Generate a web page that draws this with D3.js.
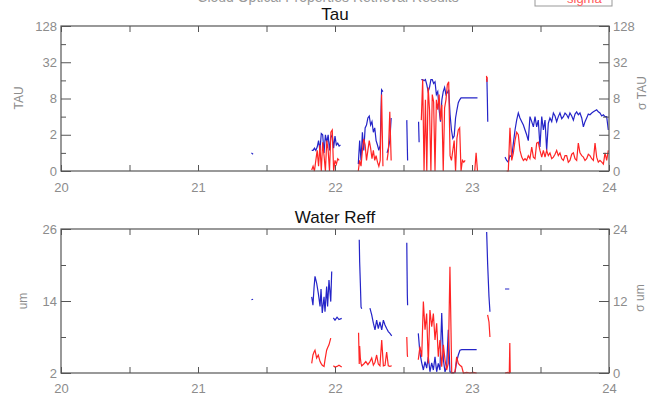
<!DOCTYPE html>
<html>
<head>
<meta charset="utf-8">
<script src="https://cdnjs.cloudflare.com/ajax/libs/d3/7.8.5/d3.min.js"></script>
<style>
  body { margin: 0; background: #fff; }
  svg { display: block; font-family: "Liberation Sans", Arial, sans-serif; }
</style>
</head>
<body>
<div id="chart"></div>
<script>
// Tau / Water Reff retrieval time series, days 20-24
// rows are [day, value (blue, left axis), sigma (red, right axis)]; null = no retrieval

const dayTicks = [20, 21, 22, 23, 24];
const halfDayTicks = [20.5, 21.5, 22.5, 23.5];

const tauTicks = [0.5, 2, 8, 32, 128];   // 0.5 is the plot floor, labelled "0"
const tauMinor = [1, 4, 16, 64];
const reffTicks = [2, 14, 26];
const reffMinor = [8, 20];
const reffSigTicks = [0, 12, 24];
const reffSigMinor = [6, 18];

const tauRows = [
  [21.390, 1.0, null], [21.402, 0.95, null], [21.6, null, null],
  [21.83, 1.1, 0.52], [21.84, 1.1, 0.6], [21.85, 1.2, 0.5], [21.86, 1.1, 0.75],
  [21.87, 1.25, 1.1], [21.88, 1.6, 0.6], [21.89, 1.1, 1.35], [21.90, 2.1, 0.5],
  [21.91, 2.0, 1.5], [21.92, 1.0, 0.9], [21.93, 2.0, 0.5], [21.94, 1.5, 1.6],
  [21.95, 2.0, 1.1], [21.96, 1.1, 0.5], [21.97, 1.8, 2.2], [21.98, 2.0, 2.4],
  [21.99, 1.2, 0.5], [22.00, 1.9, 0.75], [22.01, 1.35, 0.65], [22.02, 1.45, 0.8],
  [22.03, 1.3, 0.75], [22.04, 1.35, null], [22.10, null, null],
  [22.17, 0.65, 0.5], [22.18, 1.6, 0.75], [22.19, 0.75, 0.6], [22.20, 2.2, 1.1],
  [22.21, 1.1, 1.7], [22.22, 2.6, 1.35], [22.23, 2.9, 0.75], [22.24, 3.8, 1.1],
  [22.25, 4.1, 1.6], [22.26, 2.9, 1.2], [22.27, 3.3, 0.8], [22.28, 2.2, 1.1],
  [22.29, 2.6, 0.75], [22.30, 1.6, 0.9], [22.31, 1.35, 0.7], [22.32, 1.1, 0.6],
  [22.33, 1.35, 0.75], [22.34, 11.2, 9.3], [22.35, 10.4, 0.6], [22.365, null, null],
  [22.38, 1.0, 0.75], [22.39, 1.2, 1.1], [22.40, 1.6, 4.8], [22.41, 3.8, 0.75],
  [22.47, null, null],
  [22.524, 3.5, null], [22.527, 1.6, null], [22.530, 0.75, null], [22.57, null, null],
  [22.610, 3.3, null], [22.614, 1.5, null], [22.622, null, null],
  [22.63, 16.5, 3.5], [22.64, 16.5, 16.5], [22.65, 15.8, 0.5], [22.66, 16.5, 7.6],
  [22.67, 13.6, 0.5], [22.68, 10.4, 12.2], [22.69, 12.2, 5.2], [22.70, 16.5, 0.5],
  [22.71, 16.5, 9.3], [22.72, 14.2, 7.0], [22.73, 15.2, 0.5], [22.74, 9.3, 7.6],
  [22.75, 10.4, 5.2], [22.76, 5.2, 9.3], [22.77, 3.3, 3.5], [22.78, 7.6, 6.3],
  [22.79, 10.4, 0.5], [22.80, 12.2, 5.6], [22.81, 9.3, 7.6], [22.82, 10, 13.6],
  [22.83, 11.2, 15.2], [22.84, 4.3, 0.9], [22.85, 2.4, 0.75], [22.86, 1.75, 1.1],
  [22.87, 1.9, 1.6], [22.88, 3.8, 0.5], [22.89, 5.2, 1.75], [22.90, 6.8, 2.4],
  [22.91, 7.6, 2.6], [22.92, 8.2, 0.5], [22.93, 8.2, 0.75], [22.94, 8.2, 0.7],
  [22.95, 8.2, 0.75], [22.98, 8.2, null], [23.00, 8.2, null], [23.02, 8.2, 0.5],
  [23.03, 8.2, 1.0], [23.04, 8.2, 0.5], [23.07, null, null],
  [23.106, 17.0, 19], [23.109, 16, 15], [23.112, 8, 18], [23.115, 3.3, null],
  [23.18, null, null],
  [23.241, 0.85, null], [23.253, 0.75, 0.5], [23.265, 0.7, 0.5], [23.277, 0.9, 2.6],
  [23.290, 0.85, 0.75], [23.302, 1.45, 1.0], [23.314, 2.4, 1.6], [23.326, 3.5, 2.2],
  [23.338, 4.6, 2.0], [23.350, 3.8, 1.1], [23.363, 3.3, 0.85], [23.375, 2.9, 0.75],
  [23.387, 2.4, 0.8], [23.399, 2.0, 0.75], [23.411, 1.6, 0.9], [23.423, 4.0, 0.8],
  [23.436, 3.3, 1.25], [23.448, 2.7, 0.85], [23.460, 4.0, 0.8], [23.472, 2.7, 1.45],
  [23.484, 3.5, 1.5], [23.496, 1.25, 1.1], [23.509, 4.0, 0.85], [23.521, 2.4, 1.1],
  [23.533, 3.5, 0.85], [23.545, 1.1, 1.1], [23.557, 3.1, 0.9], [23.569, 3.8, 1.0],
  [23.582, 3.3, 0.8], [23.594, 4.6, 0.85], [23.606, 4.1, 0.95], [23.618, 3.3, 1.1],
  [23.630, 4.0, 0.9], [23.642, 4.6, 1.0], [23.655, 3.7, 0.8], [23.667, 4.0, 0.75],
  [23.679, 4.6, 0.9], [23.691, 4.3, 0.9], [23.703, 3.8, 0.7], [23.715, 4.6, 0.75],
  [23.728, 4.1, 0.95], [23.740, 3.5, 1.0], [23.752, 4.4, 0.8], [23.764, 4.8, 0.75],
  [23.776, 4.3, 1.45], [23.788, 4.6, 1.0], [23.801, 3.8, 0.9], [23.813, 2.7, 0.85],
  [23.825, 3.3, 0.75], [23.837, 3.8, 0.8], [23.849, 4.4, 0.95], [23.861, 4.3, 0.9],
  [23.874, 4.6, 0.8], [23.886, 4.8, 0.75], [23.898, 5.0, 1.45], [23.910, 5.2, 0.85],
  [23.922, 4.8, 0.7], [23.934, 4.6, 0.75], [23.947, 4.1, 0.7], [23.959, 4.3, 0.65],
  [23.971, 4.0, 1.0], [23.983, 4.0, 0.75], [23.995, 2.4, 1.1]
];

const reffRows = [
  [21.390, 14.2, null], [21.402, 14.3, null], [21.6, null, null],
  [21.830, 14.7, 1.6], [21.839, 13.3, 3.0], [21.847, 16.2, 3.5], [21.854, 18.1, 3.8],
  [21.866, 17.0, 2.5], [21.878, 15.3, 3.0], [21.891, 13.1, 1.9], [21.898, 16.0, 1.6],
  [21.907, 12.0, 1.3], [21.920, 14.7, 1.1], [21.927, 12.2, 2.2], [21.939, 16.4, 3.8],
  [21.946, 13.1, 4.2], [21.956, 17.5, 4.7], [21.969, 13.9, 5.8], [21.976, 18.9, null],
  [21.982, null, null],
  [21.988, 11.2, 1.2], [22.000, 10.8, 1.0], [22.015, 11.3, 1.1], [22.029, 10.9, 1.3],
  [22.049, 11.1, 1.0], [22.10, null, null],
  [22.172, null, 6.7], [22.177, 24.2, 1.5], [22.180, 20.5, 4.5], [22.185, 17.0, 2.5],
  [22.190, 13.0, 1.6], [22.195, 12.7, 1.2], [22.210, null, 1.5], [22.225, null, 1.9],
  [22.240, null, 1.4], [22.255, 12.8, 1.9], [22.268, 11.7, 2.5], [22.280, 10.3, 1.3],
  [22.292, 9.2, 1.8], [22.304, 10.8, 3.0], [22.316, 9.4, 1.5], [22.328, 10.5, 1.2],
  [22.341, 9.2, 5.5], [22.353, 10.8, 1.2], [22.365, 10.0, 1.3], [22.377, 9.4, 3.5],
  [22.389, 8.9, 1.2], [22.401, 8.6, 1.1], [22.414, 8.2, 1.2], [22.47, null, null],
  [22.524, 23.7, 6.0], [22.526, 19.0, 4.5], [22.528, 15.0, 3.0], [22.530, 13.3, 2.7],
  [22.57, null, null],
  [22.608, 8.6, 2.2], [22.620, 5.3, 4.4], [22.633, 3.7, 2.7], [22.645, 2.5, 11.9],
  [22.657, 3.9, 7.2], [22.669, 2.8, 9.9], [22.681, 4.7, 1.6], [22.693, 2.2, 10.5],
  [22.706, 3.7, 7.7], [22.718, 2.5, 9.9], [22.730, 4.7, 5.5], [22.742, 2.2, 8.3],
  [22.754, 3.6, 2.7], [22.766, 2.5, 5.5], [22.779, 12.0, 1.05], [22.791, 4.2, 4.7],
  [22.803, 2.2, 2.2], [22.815, 3.1, 0.5], [22.827, 9.2, 1.6], [22.839, 2.2, 17.7],
  [22.852, 2.05, 0], [22.864, 2.05, 0], [22.876, 2.1, 0.2], [22.888, 3.9, 2.7],
  [22.900, 5.0, 1.6], [22.912, 5.8, 1.3], [22.925, 5.9, 1.05], [22.937, 5.9, 0],
  [22.961, 5.9, 0.1], [22.985, 5.9, 0], [23.009, 5.9, 0.1], [23.034, 5.9, 0],
  [23.07, null, null],
  [23.107, 25.5, null], [23.114, 20.3, 9.7], [23.124, 14.7, 8.5], [23.131, 12.2, 6.0],
  [23.18, null, null],
  [23.241, 16.0, 0], [23.258, 16.0, 0.1], [23.272, 16.0, 0], [23.276, null, 5.0],
  [23.279, null, 0]
];

const BLUE = "#2424c8";
const RED = "#ff2424";
const FRAME = "#555";
const LABEL = "#8c8c8c";

const W = 650, H = 400;
const svg = d3.select("#chart").append("svg").attr("width", W).attr("height", H);

const x = d3.scaleLinear().domain([20, 24]).range([61, 609]);

// header remnants (page title and legend sit mostly above the visible area)
svg.append("text").attr("x", 328).attr("y", 2).attr("text-anchor", "middle")
  .attr("fill", "#9a9a9a").style("font-size", "14px")
  .text("Cloud Optical Properties   Retrieval   Results");
svg.append("rect").attr("x", 535).attr("y", -20).attr("width", 77).attr("height", 26)
  .attr("fill", "none").attr("stroke", "#999").attr("stroke-width", 1);
svg.append("text").attr("x", 567).attr("y", 3).attr("fill", "#ff5a5a")
  .style("font-size", "13px").text("sigma");

function drawPanel(p) {
  const g = svg.append("g");
  const [top, bot] = [p.yL.range()[1], p.yL.range()[0]];

  const mkLine = (yS, i) => d3.line()
    .defined(d => d[i] != null)
    .x(d => x(d[0])).y(d => yS(d[i]));

  g.append("path").datum(p.rows).attr("d", mkLine(p.yL, 1))
    .attr("fill", "none").attr("stroke", BLUE).attr("stroke-width", 1.2);
  g.append("path").datum(p.rows).attr("d", mkLine(p.yR, 2))
    .attr("fill", "none").attr("stroke", RED).attr("stroke-width", 1.2);

  const addAxis = (axis, tx, ty) => {
    const a = g.append("g").attr("transform", `translate(${tx},${ty})`).call(axis);
    a.attr("font-family", null).attr("font-size", null);
    a.select(".domain").remove();
    a.selectAll("line").attr("stroke", FRAME);
    a.selectAll("text").attr("fill", LABEL).style("font-size", "13px");
    return a;
  };

  // x: labelled days on the bottom, half days unlabelled, ticks on the top border too
  addAxis(d3.axisBottom(x).tickValues(dayTicks).tickFormat(d3.format("d"))
    .tickSizeInner(-6).tickSizeOuter(0).tickPadding(p.xPad), 0, bot);
  addAxis(d3.axisBottom(x).tickValues(halfDayTicks).tickFormat("")
    .tickSizeInner(-6).tickSizeOuter(0), 0, bot);
  addAxis(d3.axisTop(x).tickValues(dayTicks.concat(halfDayTicks)).tickFormat("")
    .tickSizeInner(-6).tickSizeOuter(0), 0, top);

  // y left / right
  addAxis(d3.axisLeft(p.yL).tickValues(p.ticksL).tickFormat(p.fmt)
    .tickSizeInner(-10).tickSizeOuter(0).tickPadding(4), 61, 0);
  addAxis(d3.axisLeft(p.yL).tickValues(p.minorL).tickFormat("")
    .tickSizeInner(-5).tickSizeOuter(0), 61, 0);
  addAxis(d3.axisRight(p.yR).tickValues(p.ticksR).tickFormat(p.fmt)
    .tickSizeInner(-10).tickSizeOuter(0).tickPadding(4), 609, 0);
  addAxis(d3.axisRight(p.yR).tickValues(p.minorR).tickFormat("")
    .tickSizeInner(-6).tickSizeOuter(0), 609, 0);

  g.append("rect").attr("x", 61).attr("y", top).attr("width", 548).attr("height", bot - top)
    .attr("fill", "none").attr("stroke", FRAME).attr("stroke-width", 1.2);

  g.append("text").attr("x", 335).attr("y", top - 6).attr("text-anchor", "middle")
    .attr("fill", "#111").style("font-size", "17px").text(p.title);

  g.append("text").attr("transform", `translate(${p.labL[0]},${p.labL[1]}) rotate(-90)`)
    .attr("text-anchor", "middle").attr("fill", LABEL).style("font-size", "12px").text(p.leftLabel);
  g.append("text").attr("transform", `translate(${p.labR[0]},${p.labR[1]}) rotate(-90)`)
    .attr("text-anchor", "middle").attr("fill", LABEL).style("font-size", "12px").text(p.rightLabel);
}

const tauFmt = v => v < 1 ? "0" : String(v);

drawPanel({
  title: "Tau", rows: tauRows,
  yL: d3.scaleLog().base(2).domain([0.5, 128]).range([171, 26]).clamp(true),
  yR: d3.scaleLog().base(2).domain([0.5, 128]).range([171, 26]).clamp(true),
  ticksL: tauTicks, minorL: tauMinor, ticksR: tauTicks, minorR: tauMinor,
  fmt: tauFmt, xPad: 12,
  leftLabel: "TAU", rightLabel: "\u03c3 TAU", labL: [23, 98], labR: [646, 93]
});

drawPanel({
  title: "Water Reff", rows: reffRows,
  yL: d3.scaleLinear().domain([2, 26]).range([373, 229]),
  yR: d3.scaleLinear().domain([0, 24]).range([373, 229]),
  ticksL: reffTicks, minorL: reffMinor, ticksR: reffSigTicks, minorR: reffSigMinor,
  fmt: d3.format("d"), xPad: 11,
  leftLabel: "um", rightLabel: "\u03c3 um", labL: [27, 301], labR: [644, 298]
});
</script>
</body>
</html>
